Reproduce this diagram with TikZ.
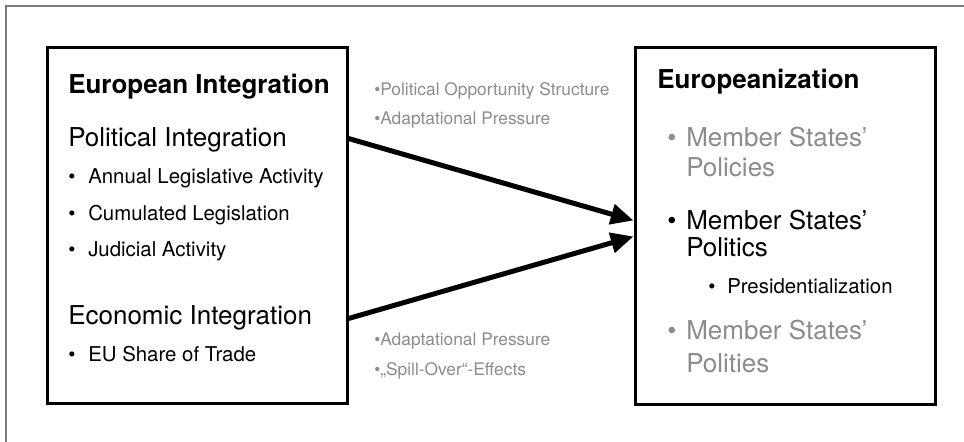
\documentclass[tikz,border=0pt]{standalone}
\usepackage{fontspec}
\setmainfont{TeX Gyre Heros}
\usetikzlibrary{arrows.meta}
\definecolor{lgray}{HTML}{8C8C8C}
\definecolor{framegray}{HTML}{7A7A7A}
\begin{document}
\begin{tikzpicture}[x=0.75pt,y=-0.75pt,
  mainbox/.style={draw=black, line width=2.25pt, inner sep=0pt},
  txt/.style={anchor=base west, inner sep=0pt},
  big/.style={txt, font=\fontsize{19.5pt}{23pt}\selectfont},
  bigb/.style={txt, font=\fontsize{19.5pt}{23pt}\selectfont\bfseries},
  item/.style={txt, font=\fontsize{15.3pt}{18pt}\selectfont},
  lab/.style={txt, lgray, font=\fontsize{13pt}{15pt}\selectfont},
  arr/.style={line width=3.75pt, -{Triangle[length=17pt,width=15pt]}}]
\useasboundingbox (0,0) rectangle (964,442);
\clip (0,0) rectangle (964,442);
\draw[framegray, line width=0.8pt] (6,6) rectangle (1000,500);
% boxes
\node[mainbox, minimum width=225pt, minimum height=266.25pt] (L) at (197,225.5) {};
\node[mainbox, minimum width=225pt, minimum height=267pt] (R) at (785,226) {};
% left box text
\node[bigb] (lt) at (68,94) {European Integration};
\node[big] (pi) at (68,147) {Political Integration};
\node[item] (b1) at (68,184) {•};
\node[item] (i1) at (88,184) {Annual Legislative Activity};
\node[item] (b2) at (68,220) {•};
\node[item] (i2) at (88,220) {Cumulated Legislation};
\node[item] (b3) at (68,257) {•};
\node[item] (i3) at (88,257) {Judicial Activity};
\node[big] (ei) at (68,324) {Economic Integration};
\node[item] (b4) at (68,361) {•};
\node[item] (i4) at (88,361) {EU Share of Trade};
% right box text
\node[bigb] (rt) at (657,89) {Europeanization};
\node[big, lgray] (rb1) at (667,147) {•};
\node[big, lgray] (r1a) at (686,147) {Member States’};
\node[big, lgray] (r1b) at (686,177) {Policies};
\node[big] (rb2) at (667,229) {•};
\node[big] (r2a) at (686,229) {Member States’};
\node[big] (r2b) at (686,257) {Politics};
\node[item] (rb3) at (708,293) {•};
\node[item] (r3) at (727,293) {Presidentialization};
\node[big, lgray] (rb4) at (667,339) {•};
\node[big, lgray] (r4a) at (686,339) {Member States’};
\node[big, lgray] (r4b) at (686,372) {Polities};
% middle labels
\node[lab] (m1) at (374,96) {•Political Opportunity Structure};
\node[lab] (m2) at (374,125) {•Adaptational Pressure};
\node[lab] (m3) at (374,345) {•Adaptational Pressure};
\node[lab] (m4) at (374,375) {•„Spill-Over“-Effects};
% arrows
\draw[arr] ([yshift=-69pt]L.north east) -- ([yshift=-130.5pt]R.north west);
\draw[arr] ([yshift=-204pt]L.north east) -- ([yshift=-142.5pt]R.north west);
\end{tikzpicture}
\end{document}
